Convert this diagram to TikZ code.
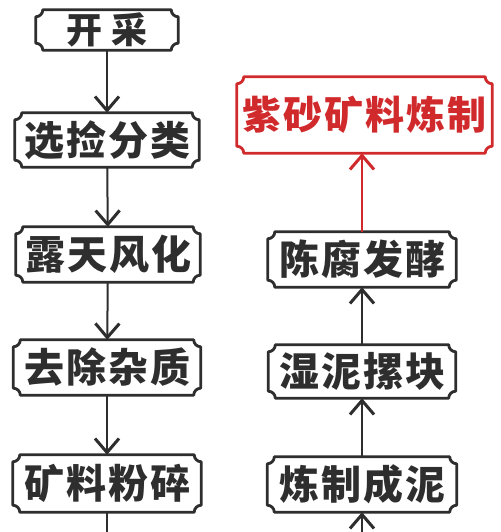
\documentclass[tikz,border=0pt]{standalone}
\usepackage{fontspec}
\newfontfamily\cjk{Noto Sans CJK SC}
\usepackage{tikz}
\usetikzlibrary{arrows.meta}

\definecolor{inkgray}{HTML}{2E2E2E}
\definecolor{clayred}{HTML}{D12A2C}

\tikzset{
  stage/.style={inner sep=0pt, text=inkgray, font=\cjk\bfseries\fontsize{40}{40}\selectfont},
  flow/.style={draw=inkgray, line width=2pt, -{Straight Barb[length=14pt,width=24pt,line width=3pt]}},
  plain/.style={draw=inkgray, line width=2pt},
}
\newcommand{\jg}{\hspace{2pt}}
% frame with scooped corners round a named node
\newcommand{\notchframe}[2][inkgray]{%
  \draw[#1, line width=2.8pt, line join=round]
    ([xshift=7pt]#2.north west) -- ([xshift=-7pt]#2.north east)
    arc[start angle=180, end angle=270, radius=7pt]
    -- ([yshift=7pt]#2.south east)
    arc[start angle=90, end angle=180, radius=7pt]
    -- ([xshift=7pt]#2.south west)
    arc[start angle=0, end angle=90, radius=7pt]
    -- ([yshift=-7pt]#2.north west)
    arc[start angle=270, end angle=360, radius=7pt] -- cycle;}

\begin{document}
\begin{tikzpicture}[x=1pt, y=1pt]
  \useasboundingbox[fill=white] (0,0) rectangle (500,532);

  % left column
  \node[stage, minimum width=142pt, minimum height=40pt, font=\cjk\bfseries\fontsize{36}{36}\selectfont] (kaicai) at (107,502) {开\hspace{10pt}采};
  \node[stage, minimum width=184pt, minimum height=54pt] (xuanjian) at (107,392) {选\jg 捡\jg 分\jg 类};
  \node[stage, minimum width=184pt, minimum height=55pt] (lutian) at (108,277.5) {露\jg 天\jg 风\jg 化};
  \node[stage, minimum width=187pt, minimum height=55pt] (quchu) at (107,164.5) {去\jg 除\jg 杂\jg 质};
  \node[stage, minimum width=188pt, minimum height=57pt] (fensui) at (107,48.5) {矿\jg 料\jg 粉\jg 碎};

  % right column
  \node[stage, minimum width=255pt, minimum height=76pt, text=clayred, font=\cjk\bfseries\fontsize{39}{39}\selectfont] (zisha) at (364.5,417) {紫\jg 砂\jg 矿\jg 料\jg 炼\jg 制};
  \node[stage, minimum width=188pt, minimum height=55pt] (chenfu) at (362,272.5) {陈\jg 腐\jg 发\jg 酵};
  \node[stage, minimum width=187pt, minimum height=53pt] (shini) at (362,160.5) {湿\jg 泥\jg 摞\jg 块};
  \node[stage, minimum width=189pt, minimum height=55pt] (lianzhi) at (362,47.5) {炼\jg 制\jg 成\jg 泥};

  \foreach \n in {kaicai, xuanjian, lutian, quchu, fensui, chenfu, shini, lianzhi}
    \notchframe{\n};
  \notchframe[clayred, line width=3pt]{zisha}

  \coordinate (leftend) at (107,0);
  \coordinate (rightstart) at (362,0);

  \draw[flow] (kaicai) -- (xuanjian);
  \draw[flow] (xuanjian) -- (lutian);
  \draw[flow] (lutian) -- (quchu);
  \draw[flow] (quchu) -- (fensui);
  \draw[plain] (fensui) -- (leftend);

  \draw[flow] (rightstart) -- (lianzhi);
  \draw[flow] (lianzhi) -- (shini);
  \draw[flow] (shini) -- (chenfu);
  \draw[flow, draw=clayred] (chenfu) -- (chenfu |- zisha.south);
\end{tikzpicture}
\end{document}
